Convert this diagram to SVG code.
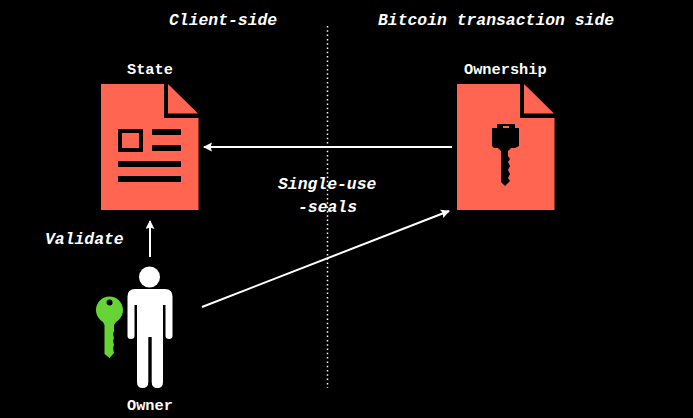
<svg xmlns="http://www.w3.org/2000/svg" width="693" height="418" viewBox="0 0 693 418">
<style>
text{font-family:"Liberation Mono","DejaVu Sans Mono",monospace;fill:#fff;font-weight:bold;}
.h{font-size:16.4px;font-style:italic;}
.l{font-size:15.3px;}
.doc{fill:#ff6550;}
.b{fill:#000;}
.c{stroke:#fff;stroke-width:2;fill:none;}
</style>
<defs>
<marker id="a" markerUnits="userSpaceOnUse" markerWidth="10" markerHeight="10" refX="8" refY="4.5" orient="auto"><path d="M0,0L9,4.5L0,9L1.5,4.5Z" fill="#fff"/></marker>
<g id="page"><path class="doc" d="M0,0H63V34H97.500V126H0Z"/><path class="doc" d="M67,0L97,29.500H67Z"/></g>
</defs>
<rect width="693" height="418" fill="#000"/>
<text class="h" x="169" y="24.500">Client-side</text>
<text class="h" x="378" y="24.500">Bitcoin transaction side</text>
<g id="connectors">
<line x1="327.500" y1="26" x2="327.500" y2="388" stroke="#fff" stroke-width="1.500" stroke-dasharray="1.500 2.800"/>
<line class="c" x1="452" y1="147" x2="204" y2="147" marker-end="url(#a)"/>
<line class="c" x1="150" y1="257" x2="150" y2="221" marker-end="url(#a)"/>
<line class="c" x1="202" y1="307" x2="449" y2="211" marker-end="url(#a)"/>
</g>
<text class="h" x="278" y="189">Single-use</text>
<text class="h" x="298" y="212">-seals</text>
<text class="h" x="45" y="244">Validate</text>
<g id="state">
<text class="l" x="127" y="74">State</text>
<use href="#page" x="101" y="84"/>
<path class="b" fill-rule="evenodd" d="M118,129H143V152H118ZM122,133V148H139V133Z"/>
<rect class="b" x="152" y="129" width="29" height="6"/>
<rect class="b" x="152" y="145" width="29" height="6"/>
<rect class="b" x="118" y="161" width="63" height="6"/>
<rect class="b" x="118" y="176" width="63" height="6"/>
</g>
<g id="ownership">
<text class="l" x="464" y="74">Ownership</text>
<use href="#page" x="457" y="84"/>
<path class="b" d="M497,124H515V128H519V146L515,148H511L508,151V156L510,159L508,162L510,166L508,170L510,174L508,178L510,181L505,186L501,182V151L498,148H494L492,146V128H497Z"/>
<rect x="503" y="126" width="6" height="2" fill="#ff6550"/>
</g>
<g id="owner">
<circle cx="149.500" cy="277" r="10.500" fill="#fff"/>
<path fill="#fff" d="M135,289H165Q172.500,289 172.500,296.500V336Q172.500,339 169,339Q165.500,339 165.500,336V305H163V382Q163,388 157.500,388Q151.700,388 151.700,382V337H148.300V382Q148.300,388 142.500,388Q137,388 137,382V305H134.500V336Q134.500,339 131,339Q127.500,339 127.500,336V296.500Q127.500,289 135,289Z"/>
<path fill="#66d436" fill-rule="evenodd" d="M109.500,296.500C117,296.500 123,302.500 123,310C123,316 119,320 116,322L114,325V331L113,334L114,338L113,341L114,345L113,348L114,353L109.500,358L104.500,354V325L103,322C100,320 96,316 96,310C96,302.500 102,296.500 109.500,296.500ZM109.500,299.500A3,3 0 1 0 109.600,305.500A3,3 0 1 0 109.500,299.500Z"/>
<text class="l" x="127" y="410">Owner</text>
</g>
</svg>
